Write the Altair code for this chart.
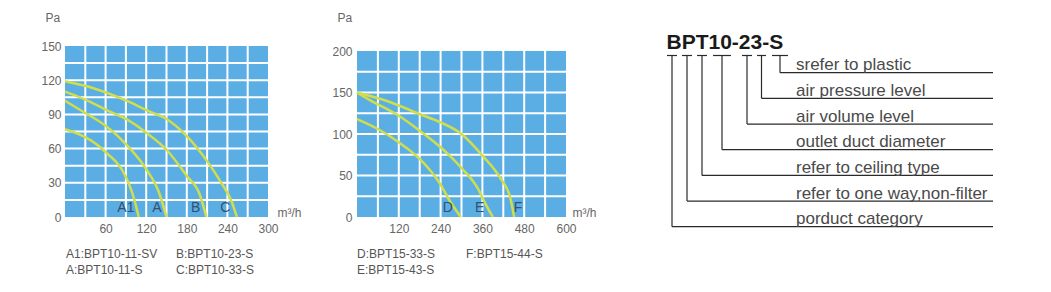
import altair as alt
import pandas as pd

FONT = "Liberation Sans"
BLUE = "#5AAEE4"
CURVE = "#D0DE4B"
CURVE_LABEL = "#34506E"
AXIS_TXT = "#666666"
TXT = "#555555"

# ---------------- chart 1 : BPT10 series (m³/h vs Pa) ----------------
c1_series = ["A1", "A", "B", "C"]
a1_x = [0, 30, 60, 90, 100, 109]
a1_y = [77, 70, 57, 35, 20, 0]
a_x = [0, 25, 60, 90, 120, 138, 150]
a_y = [102, 93, 80, 64, 42, 23, 0]
b_x = [0, 30, 64, 90, 120, 150, 180, 199, 209]
b_y = [110, 103, 93, 86, 74, 59, 36, 20, 0]
c_x = [0, 42, 91, 123, 150, 180, 210, 231, 246, 254]
c_y = [119, 113, 102, 93, 86, 71, 49, 30, 14, 0]
c1_label_x = [90, 136, 193, 237]
c1_label_y = [8, 8, 8, 8]
c1_x_ticks = [60, 120, 180, 240, 300]
c1_y_ticks = [0, 30, 60, 90, 120, 150]
c1_legend_col1 = ["A1:BPT10-11-SV", "A:BPT10-11-S"]
c1_legend_col2 = ["B:BPT10-23-S", "C:BPT10-33-S"]

# ---------------- chart 2 : BPT15 series ----------------
c2_series = ["D", "E", "F"]
d_x = [0, 60, 120, 180, 240, 267, 298]
d_y = [118, 106, 90, 70, 39, 19, 0]
e_x = [0, 41, 120, 180, 240, 300, 346, 370, 390]
e_y = [150, 140, 122, 104, 84, 59, 35, 15, 0]
f_x = [0, 84, 180, 240, 300, 360, 411, 440, 451]
f_y = [150, 140, 124, 114, 100, 74, 47, 23, 0]
c2_label_x = [261, 352, 462]
c2_label_y = [11, 11, 11]
c2_x_ticks = [120, 240, 360, 480, 600]
c2_y_ticks = [0, 50, 100, 150, 200]
c2_legend_col1 = ["D:BPT15-33-S", "E:BPT15-43-S"]
c2_legend_col2 = ["F:BPT15-44-S"]

# ---------------- model code diagram ----------------
model_code = "BPT10-23-S"
code_parts = ["B", "P", "T", "10", "2", "3", "S"]
part_meanings = ["porduct category", "refer to one way,non-filter", "refer to ceiling type",
                 "outlet duct diameter", "air volume level", "air pressure level",
                 "srefer to plastic"]


def curves_df(names, xs, ys):
    rows = []
    for n, xx, yy in zip(names, xs, ys):
        for i, (a, b) in enumerate(zip(xx, yy)):
            rows.append({"series": n, "i": i, "x": a, "y": b})
    return pd.DataFrame(rows)


PANEL_H = 171  # both panels share the same frame; panel 2's data area starts lower


def panel(curves, names, lab_x, lab_y, x_max, x_step, x_ticks, y_max, y_step, y_ticks,
          w, top_gap, unit_x, ylab_pad, leg_cols, leg_x, leg_y):
    xs = alt.Scale(domain=[0, x_max], nice=False, zero=True)
    ys = alt.Scale(domain=[0, y_max], nice=False, zero=True, range=[PANEL_H, top_gap])
    x_axis = alt.Axis(
        values=x_ticks, grid=False, domain=False, ticks=False, tickSize=0,
        labelOverlap=False, labelFlush=False,
        labelPadding=6, labelFontSize=12, labelColor=AXIS_TXT, labelFont=FONT,
        title="m³/h", titleX=unit_x, titleY=-1, titleAlign="left", titleBaseline="alphabetic",
        titleAngle=0, titleFontWeight="normal", titleFontSize=12, titleColor=AXIS_TXT, titleFont=FONT)
    y_axis = alt.Axis(
        values=y_ticks, grid=False, domain=False, ticks=False, tickSize=0,
        labelOverlap=False, labelFlush=False,
        labelPadding=ylab_pad, labelFontSize=12, labelColor=AXIS_TXT, labelFont=FONT,
        title="Pa", titleX=-20, titleY=-25, titleAlign="left", titleBaseline="alphabetic",
        titleAngle=0, titleFontWeight="normal", titleFontSize=12, titleColor=AXIS_TXT, titleFont=FONT)

    def X(f):
        return alt.X(f, scale=xs, axis=x_axis)

    def Y(f):
        return alt.Y(f, scale=ys, axis=y_axis)

    bg_df = pd.DataFrame({"x": [0], "x2": [x_max], "y": [0], "y2": [y_max]})
    bg = alt.Chart(bg_df).mark_rect(color=BLUE).encode(
        x=X("x:Q"), x2="x2:Q", y=Y("y:Q"), y2="y2:Q")

    gx_df = pd.DataFrame({"x": list(range(x_step, x_max, x_step))})
    gx_df["y"], gx_df["y2"] = 0, y_max
    gy_df = pd.DataFrame({"y": list(range(y_step, y_max, y_step))})
    gy_df["x"], gy_df["x2"] = 0, x_max
    grid_x = alt.Chart(gx_df).mark_rule(color="white", strokeWidth=2).encode(
        x=X("x:Q"), y=Y("y:Q"), y2="y2:Q")
    grid_y = alt.Chart(gy_df).mark_rule(color="white", strokeWidth=2).encode(
        x=X("x:Q"), x2="x2:Q", y=Y("y:Q"))

    lines = alt.Chart(curves).mark_line(
        interpolate="monotone", color=CURVE, strokeWidth=2.5
    ).encode(x=X("x:Q"), y=Y("y:Q"), detail="series:N", order=alt.Order("i:Q"))

    labels = alt.Chart(pd.DataFrame({"name": names, "x": lab_x, "y": lab_y})).mark_text(
        fontSize=14, color=CURVE_LABEL, font=FONT, baseline="middle", align="center"
    ).encode(x=X("x:Q"), y=Y("y:Q"), text="name:N")

    layers = [bg, grid_x, grid_y, lines, labels]
    for col, lx in zip(leg_cols, leg_x):
        layers.append(
            alt.Chart(pd.DataFrame({"t": ["\n".join(col)]})).mark_text(
                align="left", baseline="alphabetic", lineBreak="\n", lineHeight=16,
                fontSize=12, color=TXT, font=FONT
            ).encode(x=alt.value(lx), y=alt.value(leg_y), text="t:N")
        )
    return alt.layer(*layers).properties(
        width=w, height=PANEL_H, view=alt.ViewBackground(stroke="transparent"))


p1 = panel(curves_df(c1_series, [a1_x, a_x, b_x, c_x], [a1_y, a_y, b_y, c_y]),
           c1_series, c1_label_x, c1_label_y, 300, 30, c1_x_ticks, 150, 15, c1_y_ticks,
           203, 0, 212, 4, [c1_legend_col1, c1_legend_col2], [1, 111], 212)
p2 = panel(curves_df(c2_series, [d_x, e_x, f_x], [d_y, e_y, f_y]),
           c2_series, c2_label_x, c2_label_y, 600, 60, c2_x_ticks, 200, 25, c2_y_ticks,
           209, 5, 215, 5, [c2_legend_col1, c2_legend_col2], [0, 109], 212)

# ---- diagram layout (pixel frame of the diagram panel) ----
DG_LEFT, DG_TOP, DG_W, DG_H = 627, 45, 380, 197
dash_x0 = [667, 682, 697, 713, 742, 757, 772]
dash_x1 = [677, 692, 707, 731, 752, 766, 788]
DASH_Y = 54.5
ROW_TOP, ROW_STEP = 71.7, 25.67
LINE_END = 993
TEXT_X = 796

n = len(code_parts)
parts = pd.DataFrame({
    "part": code_parts,
    "meaning": part_meanings,
    "x0": dash_x0,
    "x1": dash_x1,
})
parts["xm"] = (parts["x0"] + parts["x1"]) / 2
parts["dash_y"] = DASH_Y
parts["row_y"] = [ROW_TOP + (n - 1 - i) * ROW_STEP for i in range(n)]
parts["end_x"] = LINE_END
parts["text_x"] = TEXT_X
parts["text_y"] = parts["row_y"] - 2.5

dxs = alt.Scale(domain=[DG_LEFT, DG_LEFT + DG_W], nice=False, zero=False)
dys = alt.Scale(domain=[DG_TOP, DG_TOP + DG_H], nice=False, zero=False, reverse=True)

base = alt.Chart(parts)
title_df = pd.DataFrame({"t": [model_code], "x": [666.5], "y": [48]})
dg_title = alt.Chart(title_df).mark_text(
    align="left", baseline="alphabetic", fontSize=21, fontWeight="bold", color="#1a1a1a", font=FONT
).encode(x=alt.X("x:Q", scale=dxs, axis=None), y=alt.Y("y:Q", scale=dys, axis=None), text="t:N")
rule_style = dict(color="#2a2a2a", strokeWidth=1.2)
dashes = base.mark_rule(**rule_style).encode(
    x=alt.X("x0:Q", scale=dxs, axis=None), x2="x1:Q", y=alt.Y("dash_y:Q", scale=dys, axis=None))
verts = base.mark_rule(**rule_style).encode(
    x=alt.X("xm:Q", scale=dxs, axis=None), y=alt.Y("dash_y:Q", scale=dys, axis=None), y2="row_y:Q")
hors = base.mark_rule(**rule_style).encode(
    x=alt.X("xm:Q", scale=dxs, axis=None), x2="end_x:Q", y=alt.Y("row_y:Q", scale=dys, axis=None))
texts = base.mark_text(
    align="left", baseline="alphabetic", fontSize=17, color="#4a4a4a", font=FONT
).encode(x=alt.X("text_x:Q", scale=dxs, axis=None), y=alt.Y("text_y:Q", scale=dys, axis=None),
         text="meaning:N")

diagram = alt.layer(dg_title, dashes, verts, hors, texts).properties(
    width=DG_W, height=DG_H, view=alt.ViewBackground(stroke="transparent"))

chart = alt.hconcat(p1, p2, diagram, spacing=29).properties(
    padding={"left": 40, "top": 10, "right": 0, "bottom": 0}
).configure(font=FONT)

chart.save("out.html", embed_options={"renderer": "svg", "actions": False})
